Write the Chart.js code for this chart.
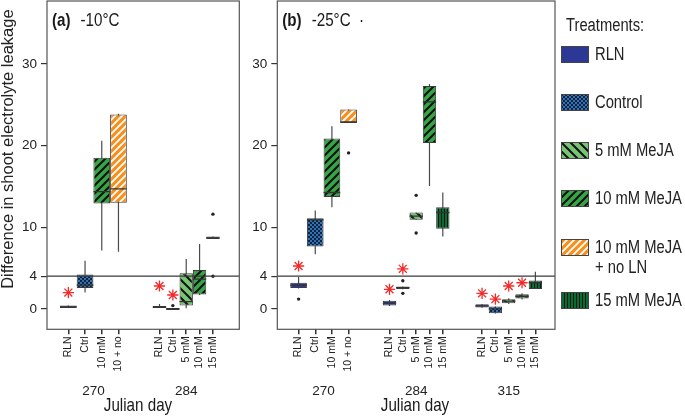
<!DOCTYPE html>
<html><head><meta charset="utf-8">
<script src="https://cdn.jsdelivr.net/npm/chart.js@4.4.1/dist/chart.umd.min.js"></script>
<style>
html,body{margin:0;padding:0;background:#fff;}
#wrap{position:relative;width:685px;height:420px;overflow:hidden;background:#fff;}
#ca{position:absolute;left:0;top:0;}
#cb{position:absolute;left:240px;top:0;}
#legend{position:absolute;left:0;top:0;width:685px;height:420px;pointer-events:none;
  font-family:'Liberation Sans',Arial,sans-serif;color:#222;}
.lt{position:absolute;font-size:18px;line-height:21px;white-space:nowrap;transform:scaleX(0.82);transform-origin:0 50%;}
.sw{position:absolute;left:561px;}
</style></head>
<body><div id="wrap">
<canvas id="ca" width="240" height="420"></canvas>
<canvas id="cb" width="320" height="420"></canvas>
<div id="legend"></div>
</div>
<script>
// ---------------- data ----------------
const treatments = ['RLN','Control','5 mM MeJA','10 mM MeJA','10 mM MeJA + no LN','15 mM MeJA'];
const legendLabels = ['RLN','Control','5 mM MeJA','10 mM MeJA','10 mM MeJA|+ no LN','15 mM MeJA'];
const yTicks = [0, 4, 10, 20, 30];
const refValue = 4;

// Panel (a) -10°C
const daysA = ['270','284'];
const boxDayA = [0,0,0,0,1,1,1,1,1];
const treatA = ['RLN','Control','10 mM MeJA','10 mM MeJA + no LN','RLN','Control','5 mM MeJA','10 mM MeJA','15 mM MeJA'];
const tickLabelsA = ['RLN','Ctrl','10 mM','10 + no','RLN','Ctrl','5 mM','10 mM','15 mM'];
const lowA  = [0.1, 2.0, 7.15, 7.0, 0.1, -0.15, 0.08, 1.7, 8.55];
const q1A   = [0.1, 2.55, 12.9, 13.0, 0.1, -0.15, 0.4, 1.75, 8.55];
const medA  = [0.25, 2.9, 14.35, 14.7, 0.2, 0.0, 0.9, 3.65, 8.7];
const q3A   = [0.4, 4.2, 18.5, 23.8, 0.35, 0.1, 4.35, 4.75, 8.85];
const highA = [0.4, 5.9, 20.6, 23.9, 0.6, 0.1, 6.1, 7.95, 8.85];
const outA  = [[],[],[],[],[],[0.4],[],[],[4.0,11.6]];
const starA = [2.0,null,null,null,2.8,1.7,null,null,null];

// Panel (b) -25°C
const daysB = ['270','284','315'];
const boxDayB = [0,0,0,0,1,1,1,1,1,2,2,2,2,2];
const treatB = ['RLN','Control','10 mM MeJA','10 mM MeJA + no LN','RLN','Control','5 mM MeJA','10 mM MeJA','15 mM MeJA','RLN','Control','5 mM MeJA','10 mM MeJA','15 mM MeJA'];
const tickLabelsB = ['RLN','Ctrl','10 mM','10 + no','RLN','Ctrl','5 mM','10 mM','15 mM','RLN','Ctrl','5 mM','10 mM','15 mM'];
const lowB  = [2.5, 6.7, 12.45, 22.75, 0.35, 2.4, 10.9, 15.05, 8.85, 0.15, -0.55, 0.6, 1.15, 2.45];
const q1B   = [2.55, 7.65, 13.7, 22.75, 0.4, 2.42, 10.9, 20.3, 9.8, 0.16, -0.53, 0.7, 1.26, 2.45];
const medB  = [2.9, 10.9, 14.25, 22.9, 0.7, 2.6, 11.35, 25.35, 11.8, 0.37, 0.0, 0.95, 1.55, 3.2];
const q3B   = [3.2, 11.1, 20.85, 24.4, 1.0, 2.73, 11.8, 27.3, 12.45, 0.58, 0.28, 1.19, 1.8, 3.47];
const highB = [3.9, 12.05, 22.35, 24.4, 1.1, 2.75, 11.8, 27.55, 14.25, 0.6, 0.3, 1.3, 1.9, 4.55];
const outB  = [[1.2],[],[],[19.1],[],[3.45,1.9],[13.9,9.3],[],[],[],[],[],[],[]];
const starB = [5.25,null,null,null,2.4,4.9,null,null,null,1.9,1.2,2.8,3.2,null];

// ---------------- styling ----------------
const FONT_R = "'Liberation Sans',Arial,sans-serif";
const CONDENSE = 0.82;
Chart.defaults.font.family = FONT_R;
Chart.defaults.color = '#222';
Chart.defaults.animation = false;

const DODGE = 0.72;

function patternCanvas(key) {
  const c = document.createElement('canvas');
  const g = () => c.getContext('2d');
  const diag = (size, bg, fg, lw, back) => {
    c.width = c.height = size; const x = g();
    x.fillStyle = bg; x.fillRect(0,0,size,size);
    x.strokeStyle = fg; x.lineWidth = lw; x.lineCap = 'square';
    for (let k = -1; k <= 1; k++) {
      x.beginPath();
      if (back) { x.moveTo(k*size, 0); x.lineTo(k*size + size, size); }
      else { x.moveTo(k*size, size); x.lineTo(k*size + size, 0); }
      x.stroke();
    }
  };
  if (key === 'RLN') { c.width = c.height = 4; const x = g(); x.fillStyle = '#2b3896'; x.fillRect(0,0,4,4); }
  else if (key === 'Control') {
    c.width = c.height = 4; const x = g(); x.fillStyle = '#2f72b6'; x.fillRect(0,0,4,4);
    x.fillStyle = '#14233d'; x.fillRect(0,0,2,2); x.fillRect(2,2,2,2);
  }
  else if (key === '5 mM MeJA') diag(9, '#79c474', '#111', 2, true);
  else if (key === '10 mM MeJA') diag(8, '#37a447', '#111', 2, false);
  else if (key === '10 mM MeJA + no LN') diag(7, '#f7901e', '#fff', 1.8, false);
  else if (key === '15 mM MeJA') {
    c.width = 3; c.height = 3; const x = g(); x.fillStyle = '#0b6b35'; x.fillRect(0,0,3,3);
    x.fillStyle = '#0a1a10'; x.fillRect(0,0,1,3);
  }
  return c;
}
function makePatterns(ctx) {
  const p = {};
  treatments.forEach(t => { p[t] = ctx.createPattern(patternCanvas(t), 'repeat'); });
  return p;
}

function panelGeometry(boxDay) {
  const counts = {}; const slot = [];
  boxDay.forEach(g => { slot.push(counts[g] || 0); counts[g] = (counts[g] || 0) + 1; });
  const xs = boxDay.map((g,k) => (g + 1) + (slot[k] - (counts[g] - 1) / 2) * DODGE / counts[g]);
  const w = boxDay.map(g => DODGE / counts[g]);
  return {xs, w};
}

function condensedText(ctx, text, x, y, font, align) {
  ctx.save();
  ctx.font = font;
  ctx.translate(x, y);
  ctx.scale(CONDENSE, 1);
  ctx.textAlign = align || 'left';
  ctx.fillText(text, 0, 0);
  const w = ctx.measureText(text).width * CONDENSE;
  ctx.restore();
  return w;
}

function noPad(s) { s.paddingTop = 0; s.paddingBottom = 0; s.paddingLeft = 0; s.paddingRight = 0; }

function buildPanel(canvasId, p) {
  const ctx = document.getElementById(canvasId).getContext('2d');
  const patterns = makePatterns(ctx);
  const {xs, w} = panelGeometry(p.boxDay);
  const pxPerUnit = p.areaWidth / (p.xMax - p.xMin);
  const barCommon = {grouped:false, categoryPercentage:1, barPercentage:2};
  const datasets = [];
  datasets.push({type:'line', data:[{x:p.xMin,y:refValue},{x:p.xMax,y:refValue}],
    borderColor:'#3a3a3a', borderWidth:1.2, pointRadius:0, order:0});
  datasets.push(Object.assign({type:'bar', data: xs.map((x,k)=>({x, y:[p.low[k], p.high[k]]})),
    backgroundColor:'#4a4a4a', borderWidth:0, maxBarThickness:1.2, order:10}, barCommon));
  xs.forEach((x,k) => datasets.push(Object.assign({type:'bar', data:[{x, y:[p.q1[k], p.q3[k]]}],
    backgroundColor: patterns[p.treat[k]], borderColor:'#3c3c3c', borderWidth:1, borderSkipped:false,
    maxBarThickness: w[k]*pxPerUnit, order:5}, barCommon)));
  datasets.push({type:'line', showLine:false, data: xs.map((x,k)=>({x, y:p.med[k]})),
    pointStyle:'line', pointRadius: w.map(v=>v*pxPerUnit/2), pointHoverRadius: w.map(v=>v*pxPerUnit/2),
    pointBorderColor:'#333', borderColor:'#333', pointBorderWidth:1.3, order:3});
  const outPts = [];
  p.out.forEach((arr,k) => arr.forEach(v => outPts.push({x:xs[k], y:v})));
  datasets.push({type:'line', showLine:false, data: outPts, pointRadius:1.7, pointBackgroundColor:'#222',
    pointBorderWidth:0, order:2});
  const starPts = [];
  p.star.forEach((v,k) => { if (v !== null) starPts.push({x:xs[k], y:v}); });
  datasets.push({type:'line', showLine:false, data: starPts, pointStyle:'star', pointRadius:5.6,
    pointBorderColor:'#f52a2a', borderColor:'#f52a2a', pointBorderWidth:1.3, order:1});

  const decorPlugin = {
    id:'panelDecor',
    afterDraw(chart) {
      const {ctx, chartArea:a} = chart;
      ctx.save();
      ctx.strokeStyle = '#555'; ctx.lineWidth = 1.2;
      ctx.strokeRect(a.left, a.top, a.right - a.left, a.bottom - a.top);
      ctx.fillStyle = '#1a1a1a'; ctx.textBaseline = 'middle';
      const tw = condensedText(ctx, p.tag, a.left + 5, 21, 'bold 18.5px ' + FONT_R);
      condensedText(ctx, p.temp, a.left + 5 + tw + 10, 21, '18.5px ' + FONT_R);
      // x-axis title
      ctx.textBaseline = 'middle';
      condensedText(ctx, 'Julian day', p.xTitleX, 406, '18.5px ' + FONT_R, 'center');
      ctx.restore();
    }
  };

  return new Chart(ctx, {
    type:'bar',
    data:{datasets},
    options:{
      responsive:false,
      animation:false,
      layout:{autoPadding:false, padding:{left:0, right:p.padRight, top:1, bottom:0}},
      plugins:{legend:{display:false}, tooltip:{enabled:false}},
      scales:{
        x:{type:'linear', min:p.xMin, max:p.xMax, offset:false, weight:0,
          grid:{display:true, drawOnChartArea:false, drawTicks:true, tickLength:5, color:'#333', lineWidth:1.5, offset:false},
          border:{display:false},
          afterBuildTicks: s => { s.ticks = xs.map(v=>({value:v})); },
          afterFit: s => { s.height = 47; noPad(s); },
          ticks:{autoSkip:false, minRotation:90, maxRotation:90, padding:2,
            font:{size:10.5}, color:'#222', callback:(v,i)=>p.tickLabels[i]}
        },
        x2:{type:'linear', position:'bottom', min:p.xMin, max:p.xMax, offset:false, weight:1,
          grid:{display:false, drawTicks:false}, border:{display:false},
          afterBuildTicks: s => { s.ticks = p.days.map((d,i)=>({value:i+1})); },
          afterFit: s => { s.height = 43.7; noPad(s); },
          ticks:{autoSkip:false, minRotation:0, maxRotation:0, padding:7, font:{size:13.5}, color:'#222',
            callback:(v,i)=>p.days[i]},
          title:{display:false}
        },
        y:{type:'linear', min:-2.5, max:37.7,
          grid:{display:true, drawOnChartArea:false, drawTicks:true, tickLength:6, color:'#333', lineWidth:1.2},
          border:{display:false},
          afterBuildTicks: s => { s.ticks = yTicks.map(v=>({value:v})); },
          afterFit: s => { s.width = p.yWidth; noPad(s); },
          ticks:{padding:4, font:{size:13.5}, color:'#222'},
          title: p.yTitle ? {display:true, text:p.yTitle, color:'#222',
            font:{size:16.5, lineHeight:1}, padding:{top:0,bottom:0}} : {display:false}
        }
      }
    },
    plugins:[decorPlugin]
  });
}

buildPanel('ca', {
  tag:'(a)', temp:'-10°C', days:daysA, boxDay:boxDayA, treat:treatA, tickLabels:tickLabelsA,
  low:lowA, q1:q1A, med:medA, q3:q3A, high:highA, out:outA, star:starA,
  xMin:0.5, xMax:2.572, areaWidth:192.3, padRight:0.7, yWidth:47, xTitleX:138,
  yTitle:'\u00A0\u00A0\u00A0\u00A0\u00A0\u00A0\u00A0Difference in shoot electrolyte leakage'
});
buildPanel('cb', {
  tag:'(b)', temp:'-25°C  \u00B7', days:daysB, boxDay:boxDayB, treat:treatB, tickLabels:tickLabelsB,
  low:lowB, q1:q1B, med:medB, q3:q3B, high:highB, out:outB, star:starB,
  xMin:0.5, xMax:3.5, areaWidth:277.7, padRight:5, yWidth:37.3, xTitleX:175, yTitle:null
});

// ---------------- legend ----------------
(function legend(){
  const L = document.getElementById('legend');
  const t = document.createElement('div');
  t.className = 'lt'; t.textContent = 'Treatments:';
  t.style.left = '566px'; t.style.top = (25 - 10.5) + 'px';
  L.appendChild(t);
  treatments.forEach((tr,i) => {
    const top = 45.5 + i*48.3 + (i >= 5 ? 5 : 0);
    const c = document.createElement('canvas');
    c.width = 28; c.height = 17; c.className = 'sw';
    c.style.top = top + 'px';
    const x = c.getContext('2d');
    x.fillStyle = x.createPattern(patternCanvas(tr), 'repeat');
    x.fillRect(0,0,28,17);
    x.strokeStyle = '#444'; x.lineWidth = 1; x.strokeRect(0.5,0.5,27,16);
    L.appendChild(c);
    legendLabels[i].split('|').forEach((line,j) => {
      const d = document.createElement('div');
      d.className = 'lt'; d.textContent = line;
      d.style.left = '595px'; d.style.top = (top + 8.5 - 10.5 + j*20.7) + 'px';
      L.appendChild(d);
    });
  });
})();
</script></body></html>
